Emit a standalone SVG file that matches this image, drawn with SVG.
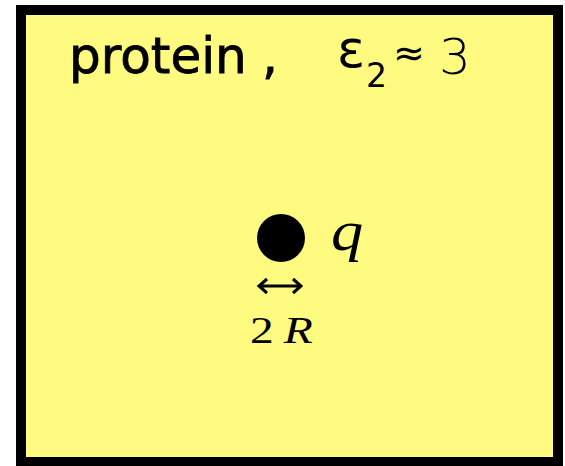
<svg xmlns="http://www.w3.org/2000/svg" width="565" height="466" viewBox="0 0 565 466">
<style>
.lbl{font-family:"DejaVu Sans","Liberation Sans",sans-serif;fill:#000}
.math{font-family:"Liberation Serif","Times New Roman",serif;fill:#000}
</style>
<rect x="0" y="0" width="565" height="466" fill="#ffffff"/>
<g id="protein">
<rect x="21" y="10" width="537" height="452" fill="#fffb80" stroke="#000" stroke-width="10"/>
<text class="lbl" x="69" y="73" font-size="50" stroke="#000" stroke-width="0.8">protein<tspan x="262">,</tspan></text>
<text class="lbl" x="337" y="67" font-size="52">ε</text>
<text class="lbl" x="366" y="87" font-size="33">2</text>
<text class="lbl" x="393" y="66" font-size="38">≈</text>
<text class="lbl" x="439" y="74" font-size="50" font-weight="300">3</text>
</g>
<g id="charge">
<circle cx="281" cy="238" r="24" fill="#000"/>
<text class="math" font-size="56" font-style="italic" transform="translate(331,250) scale(1.15,1)">q</text>
</g>
<g id="connectors">
<path d="M259 286H301M267 279L259 286L267 293M293 279L301 286L293 293" fill="none" stroke="#000" stroke-width="3"/>
</g>
<g id="radius">
<text class="math" font-size="38" transform="translate(250,343) scale(1.25,1)">2<tspan x="27" font-style="italic">R</tspan></text>
</g>
</svg>
